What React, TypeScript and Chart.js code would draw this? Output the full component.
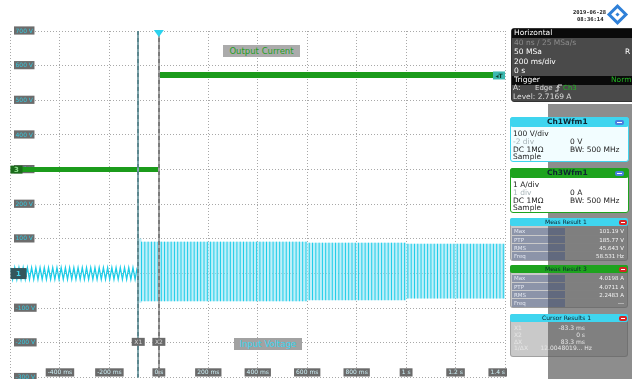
import React, { useEffect, useRef } from 'react';
import { Chart, registerables } from 'chart.js';

Chart.register(...registerables);

// ---------- axes ----------
const timeMinMs = -600;
const timeMaxMs = 1400;
const timeStepMs = 200;
const ch1MinV = -300;
const ch1MaxV = 700;
const ch1StepV = 100;
const ch3MinA = -6;
const ch3MaxA = 4;

// ---------- Ch3 : output current (A) ----------
const ch3PreTimeMs = [-600, 0];
const ch3PreA = [0, 0];
const ch3StepTimeMs = [0, 0];
const ch3StepA = [0, 2.73];
const ch3PostTimeMs = [0, 1400];
const ch3PostA = [2.73, 2.73];
const ch3TriggerLevelA = 2.7169;

// ---------- Ch1 : input voltage, envelope (V) ----------
const ch1SegStartMs = [-600, -83.3, -70, 600, 1000];
const ch1SegEndMs = [-83.3, -70, 600, 1000, 1400];
const ch1SegHighV = [17, 101, 92, 89, 86];
const ch1SegLowV = [-17, -84, -80, -77, -72];
const ch1SegCycleMs = [17.08, 13.3, 13.3, 13.3, 13.3];
const ch1SegKind = ['trace', 'burst', 'burst', 'burst', 'burst'];

// ---------- cursors / trigger ----------
const cursorNames = ['X1', 'X2'];
const cursorMs = [-83.3, 0];
const triggerMs = 0;

// ---------- side panel texts ----------
const measLabels = ['Max', 'PTP', 'RMS', 'Freq'];
const meas1Values = ['101.19 V', '185.77 V', '45.643 V', '58.531 Hz'];
const meas3Values = ['4.0198 A', '4.0711 A', '2.2483 A', '---'];
const cursorLabels = ['X1', 'X2', 'ΔX', '1/ΔX'];
const cursorValues = ['-83.3 ms', '0 s', '83.3 ms', '12.0048019... Hz'];

type P = { x: number; y: number };

function buildCh1() {
  const trace: P[] = [];
  const bars: P[] = [];
  const bandHi: P[] = [];
  const bandLo: P[] = [];
  ch1SegStartMs.forEach((s, i) => {
    const e = ch1SegEndMs[i];
    const hi = ch1SegHighV[i];
    const lo = ch1SegLowV[i];
    if (ch1SegKind[i] === 'trace') {
      const half = ch1SegCycleMs[i] / 2;
      for (let k = 0; s + k * half <= e; k++) trace.push({ x: s + k * half, y: k % 2 ? lo : hi });
    } else {
      bandHi.push({ x: s, y: hi }, { x: e, y: hi });
      bandLo.push({ x: s, y: lo }, { x: e, y: lo });
    }
  });
  const first = ch1SegKind.indexOf('burst');
  let t = ch1SegStartMs[first];
  while (t < timeMaxMs) {
    const i = ch1SegStartMs.findIndex((s, j) => t >= s && t < ch1SegEndMs[j]);
    if (i < 0) break;
    bars.push({ x: t, y: ch1SegLowV[i] }, { x: t, y: ch1SegHighV[i] }, { x: t, y: NaN });
    t += ch1SegCycleMs[i];
  }
  return { trace, bars, bandHi, bandLo };
}

const zip = (xs: number[], ys: number[]): P[] => xs.map((x, i) => ({ x, y: ys[i] }));

const scopeMarks = {
  id: 'scopeMarks',
  afterDatasetsDraw(chart: any) {
    const { ctx, chartArea: a, scales } = chart;
    const xs = scales.x;
    const ys = scales.y;
    const ya = scales.yA;
    ctx.save();
    cursorMs.forEach((t, i) => {
      const px = Math.round(xs.getPixelForValue(t));
      ctx.setLineDash([]);
      ctx.lineWidth = 2;
      ctx.strokeStyle = i === 0 ? '#7ea4ab' : '#a3a3a3';
      ctx.beginPath();
      ctx.moveTo(px, a.top);
      ctx.lineTo(px, a.bottom);
      ctx.stroke();
      ctx.setLineDash([4, 3]);
      ctx.lineWidth = 1;
      ctx.strokeStyle = i === 0 ? '#3a6a72' : '#555';
      ctx.beginPath();
      ctx.moveTo(px, a.top);
      ctx.lineTo(px, a.bottom);
      ctx.stroke();
    });
    ctx.setLineDash([]);
    ctx.font = '6px "DejaVu Sans"';
    ctx.textAlign = 'center';
    ctx.textBaseline = 'middle';
    cursorMs.forEach((t, i) => {
      const px = xs.getPixelForValue(t);
      const py = ys.getPixelForValue(-200) - 1;
      ctx.fillStyle = '#6a6a6a';
      ctx.fillRect(px - 6.5, py - 4, 13, 8);
      ctx.fillStyle = '#d6d6d6';
      ctx.fillText(cursorNames[i], px, py + 0.5);
    });
    const tx = xs.getPixelForValue(triggerMs);
    ctx.fillStyle = '#2bd2ee';
    ctx.beginPath();
    ctx.moveTo(tx - 5, a.top - 1);
    ctx.lineTo(tx + 5, a.top - 1);
    ctx.lineTo(tx, a.top + 6);
    ctx.closePath();
    ctx.fill();
    const y0 = ys.getPixelForValue(0);
    ctx.fillStyle = '#34565c';
    ctx.fillRect(a.left, y0 - 5.5, 16, 11);
    ctx.fillStyle = '#45d3ea';
    ctx.font = 'bold 7px "DejaVu Sans"';
    ctx.fillText('1', a.left + 8, y0 + 0.5);
    const y3 = ya.getPixelForValue(0);
    ctx.fillStyle = '#1b6b1b';
    ctx.fillRect(a.left, y3 - 4, 12, 8);
    ctx.fillStyle = '#8fe08f';
    ctx.fillText('3', a.left + 6, y3 + 0.5);
    const yl = ya.getPixelForValue(ch3TriggerLevelA);
    ctx.fillStyle = '#3cb8b0';
    ctx.fillRect(a.right - 12, yl - 4, 12, 8);
    ctx.fillStyle = '#0b3b2a';
    ctx.font = 'bold 6px "DejaVu Sans"';
    ctx.fillText('◂T', a.right - 6, yl + 0.5);
    ctx.restore();
  },
};

function fmtTime(v: number) {
  if (v === timeMinMs) return '';
  if (v === 0) return '0 s';
  if (Math.abs(v) >= 1000) return `${+(v / 1000).toFixed(1)} s`;
  return `${v} ms`;
}

const Txt = (p: { x: number; y: number; size?: number; color?: string; bold?: boolean; right?: boolean; mono?: boolean; children: any }) => (
  <div
    style={{
      position: 'absolute',
      left: p.right ? undefined : p.x,
      right: p.right ? 632 - p.x : undefined,
      top: p.y - 6,
      height: 12,
      lineHeight: '12px',
      fontSize: p.size ?? 7.5,
      color: p.color ?? '#fff',
      fontWeight: p.bold ? 'bold' : 'normal',
      fontFamily: p.mono ? '"DejaVu Sans Mono", monospace' : '"DejaVu Sans", sans-serif',
      whiteSpace: 'nowrap',
    }}
  >
    {p.children}
  </div>
);

const Box = (p: { x: number; y: number; w: number; h: number; bg: string; radius?: number; border?: string }) => (
  <div
    style={{
      position: 'absolute',
      left: p.x,
      top: p.y,
      width: p.w,
      height: p.h,
      background: p.bg,
      borderRadius: p.radius ?? 0,
      border: p.border,
      boxSizing: 'border-box',
    }}
  />
);

const MinIcon = ({ x, y }: { x: number; y: number }) => (
  <div style={{ position: 'absolute', left: x, top: y, width: 9, height: 5, background: '#4a7ee0', borderRadius: 2 }}>
    <div style={{ position: 'absolute', left: 2, top: 2, width: 5, height: 1, background: '#fff' }} />
  </div>
);

const CloseIcon = ({ x, y }: { x: number; y: number }) => (
  <div style={{ position: 'absolute', left: x, top: y, width: 8, height: 5, background: '#d82424', borderRadius: 2 }}>
    <div style={{ position: 'absolute', left: 2, top: 2, width: 4, height: 1, background: '#fff' }} />
  </div>
);

const ChannelBox = (p: { top: number; color: string; bodyBg: string; title: string; rows: [string, string, string?][] }) => (
  <>
    <Box x={510} y={p.top} w={119} h={45} bg={p.bodyBg} radius={3} border={`1.5px solid ${p.color}`} />
    <Box x={510} y={p.top} w={119} h={10} bg={p.color} radius={3} />
    <Txt x={547} y={p.top + 5} bold color="#0d2430">{p.title}</Txt>
    <MinIcon x={615} y={p.top + 3} />
    {p.rows.map((r, i) => (
      <React.Fragment key={i}>
        <Txt x={513} y={p.top + 17 + i * 7.8} color={r[2] ?? '#222'}>{r[0]}</Txt>
        {r[1] ? <Txt x={570} y={p.top + 17 + i * 7.8} color="#222">{r[1]}</Txt> : null}
      </React.Fragment>
    ))}
  </>
);

const MeasBox = (p: { top: number; color: string; title: string; values: string[] }) => (
  <>
    <Box x={510} y={p.top} w={118} h={43} bg="rgba(105,105,105,0.36)" radius={3} border="1px solid rgba(90,90,90,0.35)" />
    <Box x={510} y={p.top} w={118} h={8} bg={p.color} radius={2} />
    <Txt x={545} y={p.top + 4} size={6} color="#0d2430">{p.title}</Txt>
    <CloseIcon x={619} y={p.top + 1.5} />
    {measLabels.map((l, i) => (
      <React.Fragment key={l}>
        <Box x={512} y={p.top + 9.5 + i * 8.3} w={53} h={7.3} bg="rgba(55,75,125,0.42)" />
        <Box x={567} y={p.top + 9.5 + i * 8.3} w={59} h={7.3} bg="rgba(125,125,125,0.55)" />
        <Txt x={514} y={p.top + 13.2 + i * 8.3} size={5.5} color="#e4e8f2">{l}</Txt>
        <Txt x={624} y={p.top + 13.2 + i * 8.3} size={5.5} color="#f4f4f4" right>{p.values[i]}</Txt>
      </React.Fragment>
    ))}
  </>
);

export default function App() {
  const ref = useRef<HTMLCanvasElement>(null);

  useEffect(() => {
    Chart.defaults.font.family = '"DejaVu Sans", sans-serif';
    const ch1 = buildCh1();
    const chart = new Chart(ref.current as HTMLCanvasElement, {
      type: 'line',
      data: {
        datasets: [
          { data: zip(ch3PreTimeMs, ch3PreA), yAxisID: 'yA', borderColor: '#1b9b1b', borderWidth: 5, pointRadius: 0 },
          { data: zip(ch3StepTimeMs, ch3StepA), yAxisID: 'yA', borderColor: '#1b8a1b', borderWidth: 1, pointRadius: 0 },
          { data: zip(ch3PostTimeMs, ch3PostA), yAxisID: 'yA', borderColor: '#1b9b1b', borderWidth: 6, pointRadius: 0 },
          { data: ch1.trace, yAxisID: 'y', borderColor: '#1ccde8', borderWidth: 1.3, pointRadius: 0 },
          { data: ch1.bars, yAxisID: 'y', borderColor: '#1ccde8', borderWidth: 1, pointRadius: 0, spanGaps: false },
          { data: ch1.bandHi, yAxisID: 'y', borderWidth: 0, pointRadius: 0, fill: '+1', backgroundColor: 'rgba(150,228,245,0.6)' },
          { data: ch1.bandLo, yAxisID: 'y', borderWidth: 0, pointRadius: 0 },
        ],
      },
      options: {
        animation: false,
        responsive: false,
        events: [],
        layout: { padding: { left: 10.5, top: 31, right: 127, bottom: 1.5 } },
        plugins: { legend: { display: false }, tooltip: { enabled: false } },
        scales: {
          x: {
            type: 'linear',
            min: timeMinMs,
            max: timeMaxMs,
            position: 'bottom',
            ticks: {
              stepSize: timeStepMs,
              autoSkip: false,
              maxRotation: 0,
              mirror: true,
              padding: 1,
              align: 'inner',
              font: { size: 6 },
              color: '#cdeff5',
              showLabelBackdrop: true,
              backdropColor: (c: any) => (c.tick && c.tick.value === timeMinMs ? 'rgba(0,0,0,0)' : '#6a6a6a'),
              backdropPadding: { left: 2, right: 2, top: 1, bottom: 0 },
              callback: (v: any) => fmtTime(Number(v)),
            },
            grid: { color: '#a8a8a8', drawTicks: false, lineWidth: 1 },
            border: { display: false, dash: [1, 2] },
            afterFit: (s: any) => {
              s.height = 0;
            },
          },
          y: {
            type: 'linear',
            min: ch1MinV,
            max: ch1MaxV,
            position: 'left',
            ticks: {
              stepSize: ch1StepV,
              mirror: true,
              padding: 5,
              font: { size: 6 },
              color: '#35c8de',
              showLabelBackdrop: true,
              backdropColor: '#6c6c6c',
              backdropPadding: { left: 1.5, right: 1.5, top: 1, bottom: 0 },
              callback: (v: any) => `${v} V`,
            },
            grid: { color: '#a8a8a8', drawTicks: false, lineWidth: 1 },
            border: { display: false, dash: [1, 2] },
            afterFit: (s: any) => {
              s.width = 0;
              s.paddingTop = 0;
              s.paddingBottom = 0;
            },
          },
          yA: { type: 'linear', display: false, min: ch3MinA, max: ch3MaxA },
        },
      } as any,
      plugins: [scopeMarks],
    } as any);
    return () => chart.destroy();
  }, []);

  return (
    <div
      style={{
        position: 'fixed',
        left: 0,
        top: 0,
        width: 632,
        height: 379,
        background: '#fff',
        overflow: 'hidden',
        fontFamily: '"DejaVu Sans", sans-serif',
      }}
    >
      <Box x={548} y={104} w={84} h={275} bg="#8d8d8d" />
      <canvas ref={ref} width={632} height={379} style={{ position: 'absolute', left: 0, top: 0, width: 632, height: 379 }} />

      <div style={{ position: 'absolute', left: 223, top: 45, width: 77, height: 12, background: '#ababab', color: '#1f9e1f', fontSize: 8.5, lineHeight: '12px', textAlign: 'center', whiteSpace: 'nowrap' }}>
        Output Current
      </div>
      <div style={{ position: 'absolute', left: 234, top: 338, width: 68, height: 12, background: '#a2a2a2', color: '#38d4ee', fontSize: 8.5, lineHeight: '12px', textAlign: 'center', whiteSpace: 'nowrap' }}>
        Input Voltage
      </div>

      <Txt x={573} y={12} size={5.5} bold mono color="#222">2019-06-28</Txt>
      <Txt x={577} y={18.5} size={5.5} bold mono color="#222">08:36:14</Txt>
      <div style={{ position: 'absolute', left: 610, top: 7, width: 15, height: 15, transform: 'rotate(45deg)', border: '3.5px solid #2f80d8', background: '#fff', boxSizing: 'border-box' }}>
        <div style={{ position: 'absolute', left: 2.5, top: 2.5, width: 3, height: 3, background: '#2f80d8' }} />
      </div>

      <Box x={511} y={28} w={125} h={74} bg="#4a4a4a" radius={3} border="1px solid #333" />
      <Box x={512} y={29} w={124} h={9} bg="#0a0a0a" />
      <Txt x={514} y={33}>Horizontal</Txt>
      <Txt x={514} y={43} color="#8c8c8c">40 ns / 25 MSa/s</Txt>
      <Txt x={514} y={52}>50 MSa</Txt>
      <Txt x={625} y={52}>R</Txt>
      <Txt x={514} y={62}>200 ms/div</Txt>
      <Txt x={514} y={71}>0 s</Txt>
      <Box x={512} y={76} w={124} h={8.5} bg="#0a0a0a" />
      <Txt x={514} y={80}>Trigger</Txt>
      <Txt x={611} y={80} color="#22b322">Norm</Txt>
      <Txt x={513} y={88} color="#ddd">A:</Txt>
      <Txt x={535} y={88} size={7} color="#ddd">Edge</Txt>
      <svg style={{ position: 'absolute', left: 555, top: 84 }} width="7" height="8">
        <path d="M0 7 H3 V1 H7" stroke="#ddd" strokeWidth="1" fill="none" />
        <path d="M1.5 4 L3 2 L4.5 4" stroke="#ddd" strokeWidth="0.8" fill="none" />
      </svg>
      <Txt x={563} y={88} size={7} color="#22b322">Ch3</Txt>
      <Txt x={513} y={97} color="#ddd">Level: 2.7169 A</Txt>

      <ChannelBox
        top={117}
        color="#3fd5ef"
        bodyBg="#f2fdff"
        title="Ch1Wfm1"
        rows={[
          ['100 V/div', ''],
          ['-2 div', '0 V', '#a8b4b8'],
          ['DC 1MΩ', 'BW: 500 MHz'],
          ['Sample', ''],
        ]}
      />
      <ChannelBox
        top={168}
        color="#1ea31e"
        bodyBg="#ffffff"
        title="Ch3Wfm1"
        rows={[
          ['1 A/div', ''],
          ['1 div', '0 A', '#a8b4b8'],
          ['DC 1MΩ', 'BW: 500 MHz'],
          ['Sample', ''],
        ]}
      />

      <MeasBox top={218} color="#3fd5ef" title="Meas Result 1" values={meas1Values} />
      <MeasBox top={265} color="#1ea31e" title="Meas Result 3" values={meas3Values} />

      <Box x={510} y={314} w={118} h={43} bg="rgba(105,105,105,0.36)" radius={3} border="1px solid rgba(90,90,90,0.35)" />
      <Box x={510} y={314} w={118} h={8} bg="#3fd5ef" radius={2} />
      <Txt x={542} y={318} size={6} color="#0d2430">Cursor Results 1</Txt>
      <CloseIcon x={619} y={315.5} />
      {cursorLabels.map((l, i) => (
        <React.Fragment key={l}>
          <Txt x={514} y={328 + i * 6.8} size={6} color="#e6e6e6">{l}</Txt>
          <Txt x={i === 3 ? 592 : 585} y={328 + i * 6.8} size={6} color="#e6e6e6" right>{cursorValues[i]}</Txt>
        </React.Fragment>
      ))}
    </div>
  );
}
